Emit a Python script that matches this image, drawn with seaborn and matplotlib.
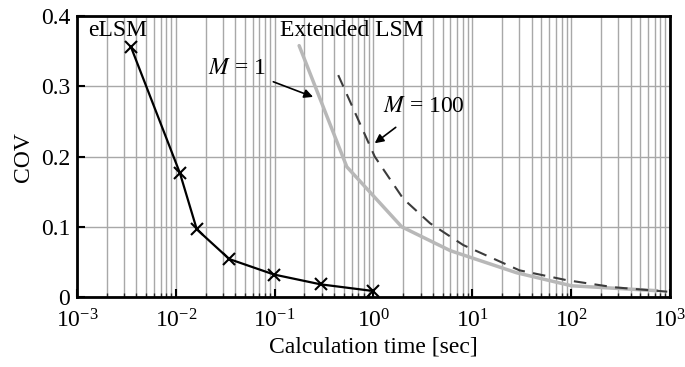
import matplotlib
matplotlib.use("Agg")
import matplotlib.pyplot as plt
import numpy as np
import pandas as pd
import seaborn as sns
from matplotlib.ticker import LogLocator, FixedLocator

# eLSM
elsm_time = [0.00352, 0.0110, 0.0163, 0.0348, 0.0986, 0.293, 1.0]
elsm_cov = [0.356, 0.1765, 0.0964, 0.054, 0.032, 0.018, 0.0085]

# Extended LSM, M = 1
m1_time = [0.177, 0.537, 1.93, 6.0, 28, 101, 740]
m1_cov = [0.358, 0.1855, 0.100, 0.066, 0.0346, 0.016, 0.009]

# Extended LSM, M = 100
m100_time = [0.44, 1.03, 2.0, 3.74, 8.1, 30, 90, 270, 940]
m100_cov = [0.316, 0.200, 0.140, 0.105, 0.074, 0.038, 0.024, 0.0139, 0.0076]

sns.set_style("white")
plt.rcParams["font.family"] = ["Liberation Serif", "DejaVu Serif"]
plt.rcParams["mathtext.fontset"] = "stix"
fs = 17

fig = plt.figure(figsize=(6.85, 3.67), dpi=100)
ax = fig.add_axes([0.1124, 0.1907, 0.978 - 0.1124, 0.956 - 0.1907])

sns.lineplot(x=m1_time, y=m1_cov, color="#b8b8b8", linewidth=2.5, ax=ax, sort=False)
sns.lineplot(x=m100_time, y=m100_cov, color="#3c3c3c", linewidth=1.5,
             ax=ax, sort=False)
ax.lines[-1].set_dashes((6, 4))
sns.lineplot(x=elsm_time, y=elsm_cov, color="black", linewidth=1.6, marker="x",
             markersize=8, markeredgewidth=1.5, markeredgecolor="black", ax=ax, sort=False)

ax.set_xscale("log")
ax.set_xlim(1e-3, 1e3)
ax.set_ylim(0, 0.4)
ax.yaxis.set_major_locator(FixedLocator([0, 0.1, 0.2, 0.3, 0.4]))
ax.set_yticklabels(["0", "0.1", "0.2", "0.3", "0.4"])
ax.xaxis.set_major_locator(LogLocator(base=10, numticks=10))
ax.xaxis.set_minor_locator(LogLocator(base=10, subs=np.arange(2, 10), numticks=20))

ax.grid(True, which="major", axis="both", color="#a8a8a8", linewidth=1)
ax.grid(True, which="minor", axis="x", color="#a8a8a8", linewidth=1)
ax.set_axisbelow(True)
for s in ax.spines.values():
    s.set_visible(True)
    s.set_linewidth(2)
    s.set_color("black")

ax.tick_params(axis="both", which="major", direction="in", length=6, width=1.5,
               labelsize=fs, colors="black", pad=5)
ax.tick_params(axis="x", which="major", pad=9, bottom=True)
ax.tick_params(axis="x", which="minor", direction="in", length=3, width=1, bottom=True)
ax.tick_params(axis="y", which="major", left=True)

ax.set_xlabel("Calculation time [sec]", fontsize=fs, color="black", labelpad=3)
ax.set_ylabel("COV", fontsize=fs, color="black", labelpad=5)

ax.text(0.0013, 0.38, "eLSM", fontsize=fs, va="center", ha="left", color="black")
ax.text(0.112, 0.38, "Extended LSM", fontsize=fs, va="center", ha="left", color="black")
ax.annotate("$M$ = 1", xy=(0.245, 0.285), xytext=(0.082, 0.326), fontsize=fs,
            ha="right", va="center", color="black",
            arrowprops=dict(arrowstyle="-|>", color="black", lw=1.2, mutation_scale=13,
                            shrinkA=3, shrinkB=0))
ax.annotate("$M$ = 100", xy=(1.03, 0.219), xytext=(1.25, 0.272), fontsize=fs,
            ha="left", va="center", color="black",
            arrowprops=dict(arrowstyle="-|>", color="black", lw=1.2, mutation_scale=13,
                            shrinkA=9, shrinkB=0))

fig.savefig("out.png", dpi=100)
